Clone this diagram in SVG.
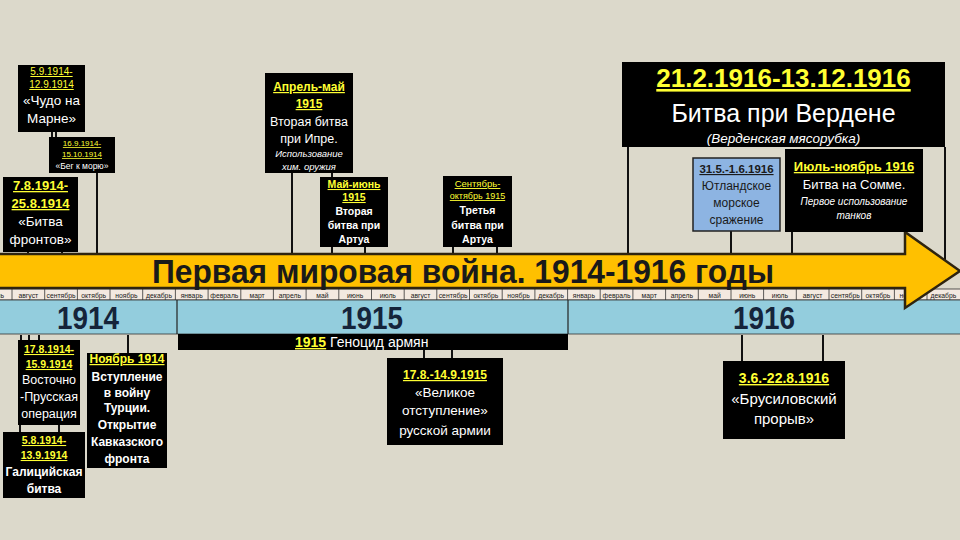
<svg xmlns="http://www.w3.org/2000/svg" width="960" height="540" viewBox="0 0 960 540">
<style>
text{font-family:"Liberation Sans","DejaVu Sans",sans-serif;text-anchor:middle}
.box{fill:#000}
.y{fill:#ffff33;font-weight:bold;text-decoration:underline}
.yn{fill:#ffff33;text-decoration:underline}
.w{fill:#fff}
.wb{fill:#fff;font-weight:bold}
.it{fill:#fff;font-style:italic}
.ln{stroke:#111;stroke-width:2;fill:none}
.mc{fill:none;stroke:#333;stroke-width:0.8}
.mt{font-size:6.8px;fill:#1a1a1a}
.yr{font-size:32px;font-weight:bold;fill:#15243a}
</style>
<rect x="0" y="0" width="960" height="540" fill="#dcd9cb"/>

<g id="connectors">
<line class="ln" x1="52" y1="132" x2="52" y2="137"/>
<line class="ln" x1="56" y1="132" x2="56" y2="137"/>
<line class="ln" x1="97" y1="173" x2="97" y2="254"/>
<line class="ln" x1="28" y1="252" x2="28" y2="254"/>
<line class="ln" x1="62" y1="252" x2="62" y2="254"/>
<line class="ln" x1="292" y1="173" x2="292" y2="254"/>
<line class="ln" x1="332" y1="173" x2="332" y2="177"/>
<line class="ln" x1="332" y1="247" x2="332" y2="254"/>
<line class="ln" x1="365" y1="247" x2="365" y2="254"/>
<line class="ln" x1="453" y1="247" x2="453" y2="254"/>
<line class="ln" x1="497" y1="247" x2="497" y2="254"/>
<line class="ln" x1="628" y1="147" x2="628" y2="254"/>
<line class="ln" x1="945" y1="147" x2="945" y2="261"/>
<line class="ln" x1="731" y1="231" x2="731" y2="254"/>
<line class="ln" x1="792" y1="232" x2="792" y2="254"/>
<line class="ln" x1="21" y1="335" x2="21" y2="340"/>
<line class="ln" x1="29" y1="335" x2="29" y2="340"/>
<line class="ln" x1="39" y1="335" x2="39" y2="340"/>
<line class="ln" x1="20" y1="425" x2="20" y2="432"/>
<line class="ln" x1="59" y1="425" x2="59" y2="432"/>
<line class="ln" x1="128" y1="335" x2="128" y2="353"/>
<line class="ln" x1="424" y1="350" x2="424" y2="358"/>
<line class="ln" x1="452" y1="350" x2="452" y2="358"/>
<line class="ln" x1="742" y1="335" x2="742" y2="361"/>
<line class="ln" x1="823" y1="335" x2="823" y2="361"/>
</g>

<g id="months">
<rect x="-2" y="289" width="964" height="11" fill="#f3e9e0" stroke="#333" stroke-width="0.8"/>
<path class="mc" d="M12,289V300M44.7,289V300M77.4,289V300M110,289V300M142.7,289V300M175.4,289V300M208.1,289V300M240.8,289V300M273.4,289V300M306.1,289V300M338.8,289V300M371.5,289V300M404.2,289V300M436.8,289V300M469.5,289V300M502.2,289V300M534.9,289V300M567.6,289V300M600.2,289V300M632.9,289V300M665.6,289V300M698.3,289V300M731,289V300M763.6,289V300M796.3,289V300M829,289V300M861.7,289V300M894.4,289V300M927,289V300"/>
<text class="mt" x="-4" y="297.5">июль</text>
<text class="mt" x="28.3" y="297.5">август</text>
<text class="mt" x="61" y="297.5">сентябрь</text>
<text class="mt" x="93.7" y="297.5">октябрь</text>
<text class="mt" x="126.4" y="297.5">ноябрь</text>
<text class="mt" x="159" y="297.5">декабрь</text>
<text class="mt" x="191.7" y="297.5">январь</text>
<text class="mt" x="224.4" y="297.5">февраль</text>
<text class="mt" x="257.1" y="297.5">март</text>
<text class="mt" x="289.8" y="297.5">апрель</text>
<text class="mt" x="322.4" y="297.5">май</text>
<text class="mt" x="355.1" y="297.5">июнь</text>
<text class="mt" x="387.8" y="297.5">июль</text>
<text class="mt" x="420.5" y="297.5">август</text>
<text class="mt" x="453.2" y="297.5">сентябрь</text>
<text class="mt" x="485.8" y="297.5">октябрь</text>
<text class="mt" x="518.5" y="297.5">ноябрь</text>
<text class="mt" x="551.2" y="297.5">декабрь</text>
<text class="mt" x="583.9" y="297.5">январь</text>
<text class="mt" x="616.6" y="297.5">февраль</text>
<text class="mt" x="649.2" y="297.5">март</text>
<text class="mt" x="681.9" y="297.5">апрель</text>
<text class="mt" x="714.6" y="297.5">май</text>
<text class="mt" x="747.3" y="297.5">июнь</text>
<text class="mt" x="780" y="297.5">июль</text>
<text class="mt" x="812.6" y="297.5">август</text>
<text class="mt" x="845.3" y="297.5">сентябрь</text>
<text class="mt" x="878" y="297.5">октябрь</text>
<text class="mt" x="910.7" y="297.5">ноябрь</text>
<text class="mt" x="943.4" y="297.5">декабрь</text>
</g>

<g id="years">
<rect x="-2" y="300" width="964" height="34" fill="#93cddd" stroke="#333" stroke-width="0.8"/>
<line x1="177" y1="300" x2="177" y2="334" stroke="#222" stroke-width="1.2"/>
<line x1="568" y1="300" x2="568" y2="334" stroke="#222" stroke-width="1.2"/>
<text class="yr" x="88" y="329" textLength="62" lengthAdjust="spacingAndGlyphs">1914</text>
<text class="yr" x="372" y="329" textLength="62" lengthAdjust="spacingAndGlyphs">1915</text>
<text class="yr" x="764" y="329" textLength="62" lengthAdjust="spacingAndGlyphs">1916</text>
</g>

<g id="arrow">
<path d="M-5,254 L905,254 L905,232 L960,271 L905,308 L905,288 L-5,288 Z" fill="#ffc000" stroke="#2e2410" stroke-width="2.5" stroke-linejoin="miter"/>
<text x="463" y="283" font-size="33" font-weight="bold" fill="#1a1a1a" textLength="622" lengthAdjust="spacingAndGlyphs">Первая мировая война. 1914-1916 годы</text>
</g>

<g id="genocide">
<rect class="box" x="178" y="334" width="390" height="16"/>
<text x="295" y="347" font-size="14" style="text-anchor:start"><tspan class="y">1915</tspan><tspan class="w"> Геноцид армян</tspan></text>
</g>

<g id="marne">
<rect class="box" x="18" y="65" width="67" height="67"/>
<text class="yn" x="51.5" y="75" font-size="10">5.9.1914-</text>
<text class="yn" x="51.5" y="88" font-size="10">12.9.1914</text>
<text class="w" x="51.5" y="105" font-size="13.5">«Чудо на</text>
<text class="w" x="51.5" y="123" font-size="13.5">Марне»</text>
</g>

<g id="sea">
<rect class="box" x="49" y="137" width="66" height="36"/>
<text class="yn" x="82" y="146" font-size="8">16.9.1914-</text>
<text class="yn" x="82" y="157" font-size="8">15.10.1914</text>
<text class="w" x="82" y="169" font-size="8.5">«Бег к морю»</text>
</g>

<g id="frontiers">
<rect class="box" x="3" y="177" width="75" height="75"/>
<text class="y" x="40.5" y="190" font-size="13">7.8.1914-</text>
<text class="y" x="40.5" y="208" font-size="13">25.8.1914</text>
<text class="w" x="40.5" y="226" font-size="13.5">«Битва</text>
<text class="w" x="40.5" y="244" font-size="13.5">фронтов»</text>
</g>

<g id="ypres">
<rect class="box" x="265" y="73" width="88" height="100"/>
<text class="y" x="309" y="91" font-size="12">Апрель-май</text>
<text class="y" x="309" y="108" font-size="12">1915</text>
<text class="w" x="309" y="126" font-size="12.5">Вторая битва</text>
<text class="w" x="309" y="143" font-size="12.5">при Ипре.</text>
<text class="it" x="309" y="157" font-size="9.5">Использование</text>
<text class="it" x="309" y="170" font-size="9.5">хим. оружия</text>
</g>

<g id="artois2">
<rect class="box" x="320" y="177" width="68" height="70"/>
<text class="y" x="354" y="188" font-size="10.5">Май-июнь</text>
<text class="y" x="354" y="201" font-size="10.5">1915</text>
<text class="wb" x="354" y="215" font-size="10.5">Вторая</text>
<text class="wb" x="354" y="229" font-size="10.5">битва при</text>
<text class="wb" x="354" y="243" font-size="10.5">Артуа</text>
</g>

<g id="artois3">
<rect class="box" x="443" y="176" width="69" height="71"/>
<text class="yn" x="477.5" y="187" font-size="9.5">Сентябрь-</text>
<text class="yn" x="477.5" y="199" font-size="9">октябрь 1915</text>
<text class="wb" x="477.5" y="214" font-size="10.5">Третья</text>
<text class="wb" x="477.5" y="229" font-size="10.5">битва при</text>
<text class="wb" x="477.5" y="243" font-size="10.5">Артуа</text>
</g>

<g id="verdun">
<rect class="box" x="622" y="62" width="323" height="85"/>
<text class="y" x="783.5" y="87" font-size="26">21.2.1916-13.12.1916</text>
<text class="w" x="783.5" y="122" font-size="25">Битва при Вердене</text>
<text class="it" x="783.5" y="143" font-size="13.5">(Верденская мясорубка)</text>
</g>

<g id="jutland">
<rect x="693" y="158" width="87" height="73" fill="#8db4e2" stroke="#222" stroke-width="1.5"/>
<text x="736.5" y="173" font-size="11.5" font-weight="bold" fill="#1a1a1a" text-decoration="underline">31.5.-1.6.1916</text>
<text x="736.5" y="190" font-size="12" fill="#1a1a1a">Ютландское</text>
<text x="736.5" y="207" font-size="12" fill="#1a1a1a">морское</text>
<text x="736.5" y="224" font-size="12" fill="#1a1a1a">сражение</text>
</g>

<g id="somme">
<rect class="box" x="785" y="149" width="138" height="83"/>
<text class="y" x="854" y="171" font-size="13">Июль-ноябрь 1916</text>
<text class="w" x="854" y="189" font-size="13">Битва на Сомме.</text>
<text class="it" x="854" y="205" font-size="10">Первое использование</text>
<text class="it" x="854" y="219" font-size="10">танков</text>
</g>

<g id="prussia">
<rect class="box" x="18" y="340" width="62" height="85"/>
<text class="y" x="49" y="353" font-size="10.5">17.8.1914-</text>
<text class="y" x="49" y="368" font-size="10.5">15.9.1914</text>
<text class="w" x="49" y="384" font-size="12.5">Восточно</text>
<text class="w" x="49" y="401" font-size="12.5">-Прусская</text>
<text class="w" x="49" y="418" font-size="12.5">операция</text>
</g>

<g id="galicia">
<rect class="box" x="3" y="432" width="82" height="66"/>
<text class="y" x="44" y="444" font-size="10.5">5.8.1914-</text>
<text class="y" x="44" y="459" font-size="10.5">13.9.1914</text>
<text class="wb" x="44" y="476" font-size="12">Галицийская</text>
<text class="wb" x="44" y="493" font-size="12">битва</text>
</g>

<g id="turkey">
<rect class="box" x="87" y="353" width="80" height="115"/>
<text class="y" x="127" y="363" font-size="12">Ноябрь 1914</text>
<text class="wb" x="127" y="381" font-size="12">Вступление</text>
<text class="wb" x="127" y="397" font-size="12">в войну</text>
<text class="wb" x="127" y="412" font-size="12">Турции.</text>
<text class="wb" x="127" y="429" font-size="12">Открытие</text>
<text class="wb" x="127" y="446" font-size="12">Кавказского</text>
<text class="wb" x="127" y="463" font-size="12">фронта</text>
</g>

<g id="retreat">
<rect class="box" x="387" y="358" width="116" height="87"/>
<text class="y" x="445" y="379" font-size="12">17.8.-14.9.1915</text>
<text class="w" x="445" y="397" font-size="13.5">«Великое</text>
<text class="w" x="445" y="415" font-size="13.5">отступление»</text>
<text class="w" x="445" y="435" font-size="13.5">русской армии</text>
</g>

<g id="brusilov">
<rect class="box" x="723" y="361" width="122" height="78"/>
<text class="y" x="784" y="383" font-size="14">3.6.-22.8.1916</text>
<text class="w" x="784" y="404" font-size="15">«Брусиловский</text>
<text class="w" x="784" y="424" font-size="15">прорыв»</text>
</g>
</svg>
